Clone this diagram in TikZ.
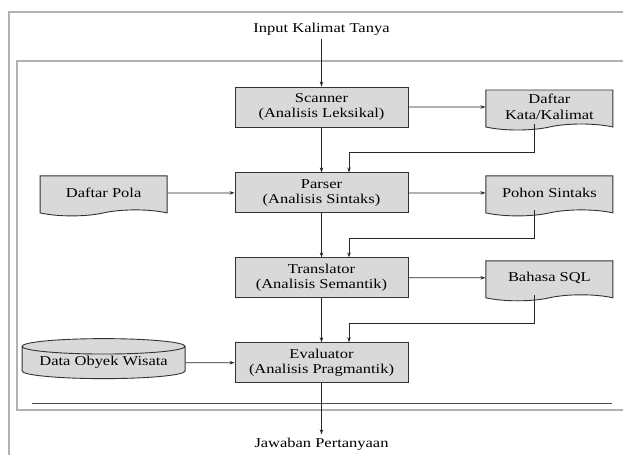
\documentclass[tikz,border=0pt]{standalone}
\usepackage{fontspec}
\setmainfont{Liberation Serif}[FakeStretch=1.22]
\usetikzlibrary{positioning,calc,shapes.symbols,shapes.geometric,arrows.meta}

\begin{document}
\begin{tikzpicture}[x=1pt,y=-1pt,
    font=\fontsize{13.5}{15.5}\selectfont,
    proses/.style={draw=black!80, line width=0.9pt, fill=black!15, minimum width=173pt, minimum height=40pt, align=center, inner sep=0pt},
    dokumen/.style={tape, tape bend top=none, tape bend bottom=in and out, tape bend height=6pt, draw=black!80, line width=0.9pt, fill=black!15, minimum width=127pt, minimum height=40pt, align=center, inner sep=0pt},
    basisdata/.style={cylinder, shape border rotate=90, aspect=0.12, draw=black!80, line width=0.9pt, fill=black!15, minimum height=40pt, minimum width=163pt, inner sep=0pt},
    panah/.style={-{Stealth[length=5pt,width=3.5pt]}, draw=black!85, line width=0.8pt},
  ]
  \useasboundingbox (0,0) rectangle (623,455);
  % bingkai
  \draw[gray!60, line width=1.2pt] (9,455) -- (9,12) -- (623,12);
  \draw[gray!60, line width=1.2pt] (623,61) -- (17,61) -- (17,410) -- (623,410);
  \draw[black!70, line width=0.8pt] (32,403) -- (612,403);

  \node (input) at (321.5,29) {Input Kalimat Tanya};
  \node [proses] (scanner) at (321.5,107) {Scanner\\(Analisis Leksikal)};
  \node [dokumen, right = 77pt of scanner] (kata) {Daftar\\Kata/Kalimat};
  \node [proses, below = 45pt of scanner] (parser) {Parser\\(Analisis Sintaks)};
  \node [dokumen, left = 67pt of parser] (pola) {Daftar Pola};
  \node [dokumen, right = 77pt of parser] (pohon) {Pohon Sintaks};
  \node [proses, below = 44pt of parser] (translator) {Translator\\(Analisis Semantik)};
  \node [dokumen, right = 77pt of translator] (sql) {Bahasa SQL};
  \node [proses, below = 44pt of translator] (evaluator) {Evaluator\\(Analisis Pragmantik)};
  \node [basisdata, left = 49pt of evaluator] (data) {Data Obyek Wisata};
  \node (jawaban) at (321.5,444) {Jawaban Pertanyaan};

  \draw[panah] (input) -- (scanner);
  \draw[panah] (scanner) -- (kata);
  \draw[panah] (scanner) -- (parser);
  \draw[panah] (pola) -- (parser);
  \draw[panah] (parser) -- (pohon);
  \draw[panah] (parser) -- (translator);
  \draw[panah] (translator) -- (sql);
  \draw[panah] (translator) -- (evaluator);
  \draw[panah] (data) -- (evaluator);
  \draw[panah] (evaluator) -- (jawaban);
  % umpan balik
  \draw[panah] ([xshift=-15pt]kata.south) -- ++(0,28) -| ([xshift=27.5pt]parser.north);
  \draw[panah] ([xshift=-15pt]pohon.south) -- ++(0,28) -| ([xshift=27.5pt]translator.north);
  \draw[panah] ([xshift=-15pt]sql.south) -- ++(0,28) -| ([xshift=27.5pt]evaluator.north);
\end{tikzpicture}
\end{document}
